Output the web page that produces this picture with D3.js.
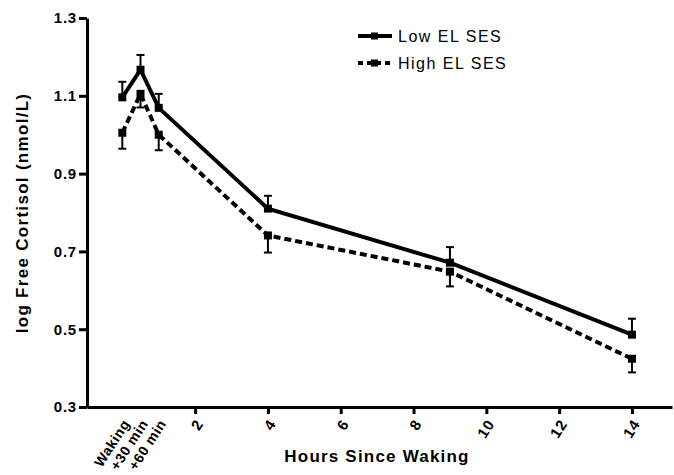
<!DOCTYPE html>
<meta charset="utf-8">
<style>
    body { margin: 0; background: #fff; }
    text { font-family: "Liberation Sans", Arial, sans-serif; fill: #000; }
    .axis path, .axis line { stroke: #000; stroke-width: 3px; }
    .axis text { font-size: 15px; font-weight: bold; letter-spacing: 0.8px; }
    .axis text.early { font-size: 14px; letter-spacing: 0.6px; }
</style>
<body>
<div id="chart"></div>
<script src="https://d3js.org/d3.v7.min.js"></script>
<script>

    // hours since waking
    var hours = [0, 0.5, 1, 4, 9, 14];

    var lowMean  = [1.096, 1.167, 1.069, 0.810, 0.671, 0.486],
        lowErr   = [0.040, 0.038, 0.036, 0.033, 0.040, 0.041];

    var highMean = [1.005, 1.105, 1.000, 0.741, 0.648, 0.424],
        highErr  = [0.041, 0.035, 0.040, 0.044, 0.038, 0.035];

    var yTicks = [0.3, 0.5, 0.7, 0.9, 1.1, 1.3];
    var xTicks = [2, 4, 6, 8, 10, 12, 14];
    var earlyLabels = ["Waking", "+30 min", "+60 min"];

    var svg_dx = 674, svg_dy = 475;

    var x = d3.scaleLinear().domain([-0.97, 15.1]).range([87, 672]),
        y = d3.scaleLinear().domain([0.3, 1.3]).range([407, 18]);

    var svg = d3.select("#chart")
                .append("svg")
                .attr("width", svg_dx)
                .attr("height", svg_dy);

    // axes
    var axis_y = d3.axisLeft(y)
                   .tickValues(yTicks)
                   .tickFormat(d3.format(".1f"))
                   .tickSize(8)
                   .tickSizeOuter(0)
                   .tickPadding(2);

    svg.append("g")
       .attr("class", "axis")
       .attr("transform", "translate(87,0)")
       .call(axis_y);

    var axis_x = d3.axisBottom(x)
                   .tickValues(xTicks)
                   .tickSize(7)
                   .tickSizeOuter(0);

    var gx = svg.append("g")
       .attr("class", "axis")
       .attr("transform", "translate(0,407)")
       .call(axis_x);

    gx.selectAll(".tick text")
      .attr("text-anchor", "end")
      .attr("dy", "0.35em")
      .attr("transform", "translate(4,14) rotate(-57)")
      .attr("y", 0)
      .attr("x", 0);

    gx.selectAll(".early")
      .data(earlyLabels)
      .enter()
      .append("text")
      .attr("class", "early")
      .attr("text-anchor", "end")
      .attr("dy", "0.35em")
      .attr("transform", (d, i) => "translate(" + (x(hours[i]) + 4) + ",14) rotate(-57)")
      .text(d => d);

    svg.append("text")
       .attr("x", 377)
       .attr("y", 462)
       .attr("text-anchor", "middle")
       .style("font-size", "17px")
       .style("font-weight", "bold")
       .style("letter-spacing", "1.2px")
       .text("Hours Since Waking");

    svg.append("text")
       .attr("transform", "translate(28,213) rotate(-90)")
       .attr("text-anchor", "middle")
       .style("font-size", "17px")
       .style("font-weight", "bold")
       .style("letter-spacing", "1.3px")
       .text("log Free Cortisol (nmol/L)");

    // series
    var series = [
        {mean: lowMean, err: lowErr, dir: -1, dash: null},
        {mean: highMean, err: highErr, dir: 1, dash: "7,4"}
    ];

    var line = d3.line()
                 .x((d, i) => x(hours[i]))
                 .y(d => y(d));

    series.forEach(function (s) {

        var g = svg.append("g");

        // error bars (one-sided)
        hours.forEach(function (h, i) {
            var yEnd = y(s.mean[i] - s.dir * s.err[i]);
            g.append("line")
             .attr("x1", x(h)).attr("x2", x(h))
             .attr("y1", y(s.mean[i])).attr("y2", yEnd)
             .attr("stroke", "#000").attr("stroke-width", 2);
            g.append("line")
             .attr("x1", x(h) - 4).attr("x2", x(h) + 4)
             .attr("y1", yEnd).attr("y2", yEnd)
             .attr("stroke", "#000").attr("stroke-width", 2);
        });

        g.append("path")
         .datum(s.mean)
         .attr("d", line)
         .attr("fill", "none")
         .attr("stroke", "#000")
         .attr("stroke-width", 4)
         .attr("stroke-dasharray", s.dash);

        g.selectAll("rect")
         .data(s.mean)
         .enter()
         .append("rect")
         .attr("x", (d, i) => x(hours[i]) - 4)
         .attr("y", d => y(d) - 4)
         .attr("width", 8)
         .attr("height", 8)
         .attr("fill", "#000");
    });

    // legend
    var legend = [
        {name: "Low EL SES", dash: null},
        {name: "High EL SES", dash: "5,4"}
    ];

    var lg = svg.append("g")
                .selectAll("g")
                .data(legend)
                .enter()
                .append("g")
                .attr("transform", (d, i) => "translate(358," + (36 + i * 27) + ")");

    lg.append("line")
      .attr("x1", 0).attr("x2", 34)
      .attr("stroke", "#000")
      .attr("stroke-width", 4)
      .attr("stroke-dasharray", d => d.dash);

    lg.append("rect")
      .attr("x", 13).attr("y", -3.5)
      .attr("width", 7).attr("height", 7)
      .attr("fill", "#000");

    lg.append("text")
      .attr("x", 40)
      .attr("dy", "0.35em")
      .style("font-size", "16px")
      .style("letter-spacing", "1.5px")
      .text(d => d.name);

</script>
</body>
